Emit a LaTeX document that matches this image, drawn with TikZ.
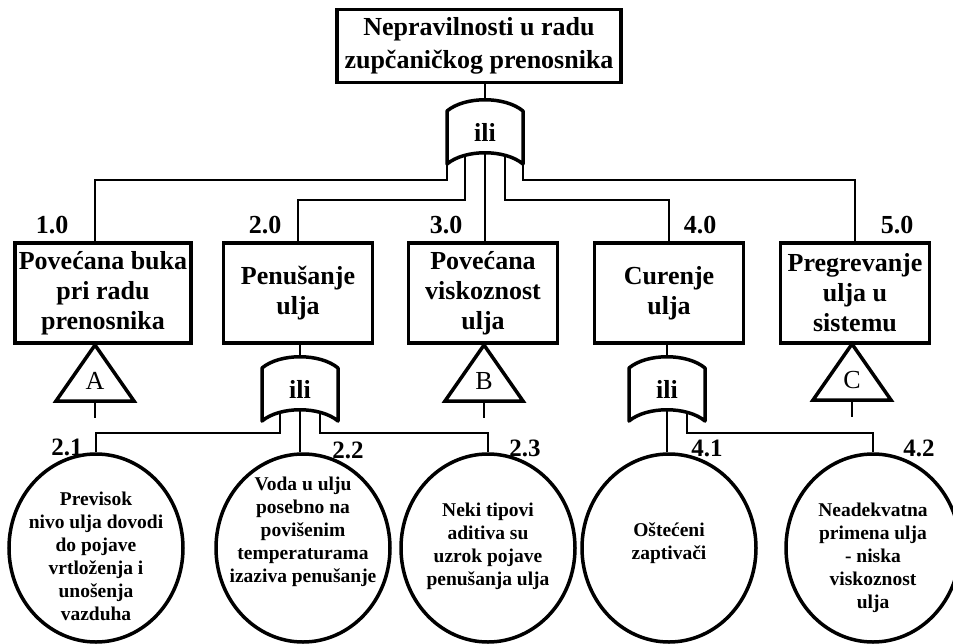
\documentclass[tikz,border=0pt]{standalone}
\usepackage{fontspec}
\setmainfont{Liberation Serif}
\usetikzlibrary{shapes.geometric}
\usetikzlibrary{positioning}
\usetikzlibrary{calc}

\begin{document}
\begin{tikzpicture}[x=1pt,y=-1pt]

% used shapes
\tikzstyle{event} = [rectangle, draw, line width=3.5pt, inner sep=0pt, align=center, minimum height=100pt, font=\fontsize{26}{30}\selectfont\bfseries]
\tikzstyle{topevent} = [event, minimum width=284pt, minimum height=73pt, font=\fontsize{26}{33}\selectfont\bfseries]
\tikzstyle{gate} = [inner sep=0pt, outer sep=0pt, minimum width=76pt, minimum height=64pt, font=\fontsize{26}{28}\selectfont\bfseries]
\tikzstyle{gateline} = [line width=3.5pt, line join=round]
\tikzstyle{transfer} = [inner sep=0pt, font=\fontsize{26}{28}\selectfont]
\tikzstyle{triline} = [line width=3.5pt]
\tikzstyle{cause} = [ellipse, draw, line width=3.5pt, inner sep=0pt, minimum width=174pt, minimum height=188pt]
\tikzstyle{causetext} = [align=center, inner sep=0pt, font=\fontsize{19.5}{23}\selectfont\bfseries]
\tikzstyle{num} = [inner sep=0pt, font=\fontsize{26}{28}\selectfont\bfseries]
\tikzstyle{subnum} = [inner sep=0pt, font=\fontsize{25}{28}\selectfont\bfseries]
\tikzstyle{conn} = [line width=1.7pt]

\useasboundingbox (0,0) rectangle (953,643);

% top event and gate
\node [topevent] (top) at (479,46) {Nepravilnosti u radu\\zupčaničkog prenosnika};
\node [gate] (g0) at (485,132) {ili};

% events
\node [event, minimum width=176pt] (b1) at (103,293) {Povećana buka\\pri radu\\prenosnika};
\node [event, minimum width=149pt] (b2) at (298,293) {Penušanje\\ulja};
\node [event, minimum width=149pt] (b3) at (483,293) {Povećana\\viskoznost\\ulja};
\node [event, minimum width=149pt] (b4) at (669,293) {Curenje\\ulja};
\node [event, minimum width=149pt] (b5) at (855,293) {Pregrevanje\\ulja u\\sistemu};

\node [num] (n10) at (52,225) {1.0};
\node [num] (n20) at (265,225) {2.0};
\node [num] (n30) at (446,225) {3.0};
\node [num] (n40) at (700,225) {4.0};
\node [num] (n50) at (897,225) {5.0};

% transfer triangles
\node [transfer] (tA) at (95,381) {A};
\node [transfer] (tB) at (484,381) {B};
\node [transfer] (tC) at (852,380) {C};

\foreach \t in {tA,tB,tC} {
  \draw [triline] ($(\t)+(0,-36)$) -- ($(\t)+(39,20)$) -- ($(\t)+(-39,20)$) -- cycle;
  \draw [conn] ($(\t)+(0,20)$) -- ++(0,17);
}

% lower gates
\node [gate] (g2) at (300,389) {ili};
\node [gate] (g4) at (667,389) {ili};

\foreach \g in {g0,g2,g4} {
  \draw [gateline] ($(\g)+(-38,32)$) -- ($(\g)+(-38,-21)$)
    .. controls ($(\g)+(-20,-36)$) and ($(\g)+(20,-36)$) .. ($(\g)+(38,-21)$)
    -- ($(\g)+(38,32)$)
    .. controls ($(\g)+(20,17)$) and ($(\g)+(-20,17)$) .. cycle;
  \coordinate (\g-l) at ($(\g)+(-20,24)$);
  \coordinate (\g-c) at ($(\g)+(0,21)$);
  \coordinate (\g-r) at ($(\g)+(20,24)$);
}

% basic causes
\node [cause, label={[causetext, yshift=-8pt]center:{Previsok\\nivo ulja dovodi\\do pojave\\vrtloženja i\\unošenja\\vazduha}}] (c1) at (96,548) {};
\node [cause, label={[causetext, yshift=16pt]center:{Voda u ulju\\posebno na\\povišenim\\temperaturama\\izaziva penušanje}}] (c2) at (303,548) {};
\node [cause, label={[causetext, yshift=2pt]center:{Neki tipovi\\aditiva su\\uzrok pojave\\penušanja ulja}}] (c3) at (488,548) {};
\node [cause, label={[causetext, yshift=5pt]center:{Oštećeni\\zaptivači}}] (c4) at (669,548) {};
\node [cause, label={[causetext, yshift=-10pt]center:{Neadekvatna\\primena ulja\\- niska\\viskoznost\\ulja}}] (c5) at (873,548) {};

\node [subnum] (n21) at (67,447) {2.1};
\node [subnum] (n22) at (348,450) {2.2};
\node [subnum] (n23) at (525,448) {2.3};
\node [subnum] (n41) at (707,448) {4.1};
\node [subnum] (n42) at (919,448) {4.2};

% connectors
\draw [conn] (top.south -| g0.north) -- (g0.north);
\draw [conn] (g0.south west) -- ++(0,16) -| (tA |- b1.north);
\draw [conn] (g0.south east) -- ++(0,16) -| (b5.north);
\draw [conn] (g0-l) -- ++(0,44) -| (b2.north);
\draw [conn] (g0-r) -- ++(0,44) -| (b4.north);
\draw [conn] (g0-c) -- (g0-c |- b3.north);

\draw [conn] (b2.south -| g2.north) -- (g2.north);
\draw [conn] (b4.south -| g4.north) -- (g4.north);
\draw [conn] (g2-l) -- ++(0,20) -| (c1.north);
\draw [conn] (g2-c) -- (g2-c |- c2.north);
\draw [conn] (g2-r) -- ++(0,20) -| (c3.north);
\draw [conn] (g4-c) -- (g4-c |- c4.north);
\draw [conn] (g4-r) -- ++(0,20) -| (c5.north);

\end{tikzpicture}
\end{document}
